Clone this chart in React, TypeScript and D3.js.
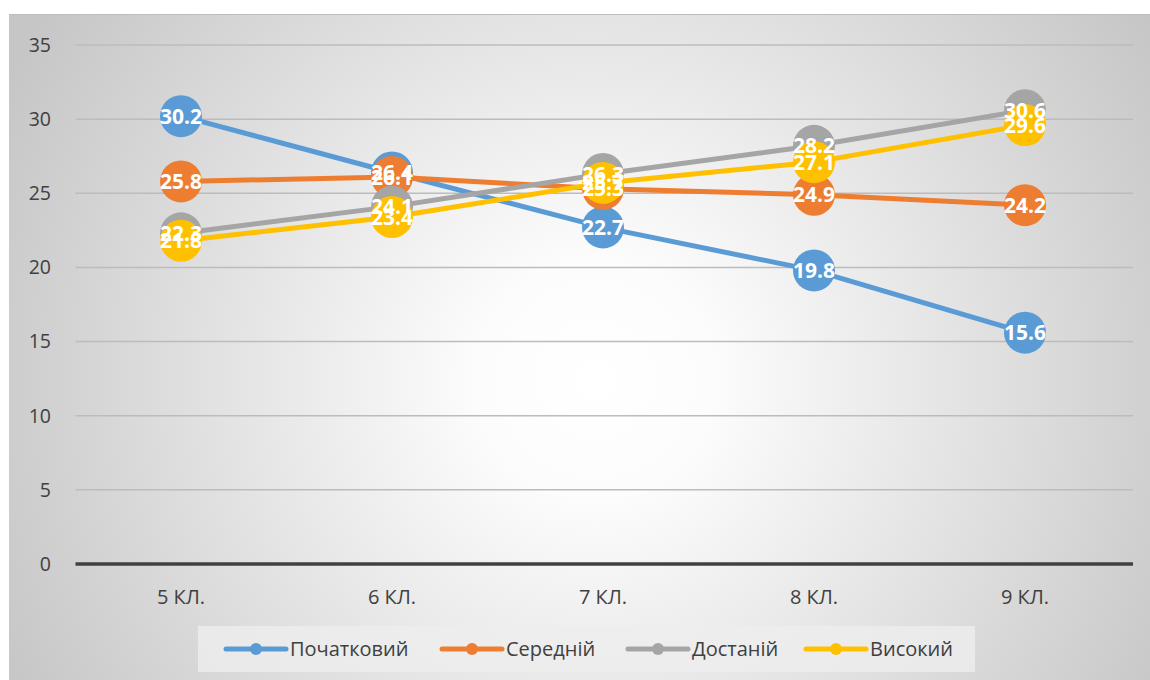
import React, { useEffect, useRef } from 'react';
import * as d3 from 'd3';

// класи (категорії)
const categories = ['5 КЛ.', '6 КЛ.', '7 КЛ.', '8 КЛ.', '9 КЛ.'];

// рівні навчальних досягнень
const pochatkovyi = [30.2, 26.4, 22.7, 19.8, 15.6];
const serednii = [25.8, 26.1, 25.3, 24.9, 24.2];
const dostatnii = [22.3, 24.1, 26.3, 28.2, 30.6];
const vysokyi = [21.8, 23.4, 25.7, 27.1, 29.6];

const seriesNames = ['Початковий', 'Середній', 'Достаній', 'Високий'];
const seriesColors = ['#5B9BD5', '#ED7D31', '#A5A5A5', '#FFC000'];
const yTicks = [0, 5, 10, 15, 20, 25, 30, 35];

const FONT = '"Open Sans", "Noto Sans", sans-serif';

const App = () => {
    const svgRef = useRef<SVGSVGElement | null>(null);
    const width = 1150;
    const height = 680;

    useEffect(() => {
        const svg = d3.select(svgRef.current);
        svg.selectAll('*').remove();

        const series = [pochatkovyi, serednii, dostatnii, vysokyi].map((values, i) => ({
            name: seriesNames[i],
            color: seriesColors[i],
            values,
        }));

        // --- фон з радіальним градієнтом ---
        const defs = svg.append('defs');
        const grad = defs.append('radialGradient')
            .attr('id', 'bg')
            .attr('gradientUnits', 'userSpaceOnUse')
            .attr('cx', 595).attr('cy', 380).attr('r', 660);
        grad.append('stop').attr('offset', '0%').attr('stop-color', '#ffffff');
        grad.append('stop').attr('offset', '18%').attr('stop-color', '#fcfcfc');
        grad.append('stop').attr('offset', '100%').attr('stop-color', '#c6c6c6');

        svg.append('rect').attr('width', width).attr('height', height).attr('fill', '#ffffff');
        svg.append('rect')
            .attr('x', 9).attr('y', 14)
            .attr('width', width - 9).attr('height', height - 14)
            .attr('fill', 'url(#bg)');
        svg.append('line')
            .attr('x1', 9).attr('x2', width).attr('y1', 14.5).attr('y2', 14.5)
            .attr('stroke', '#bdbdbd').attr('stroke-width', 1);

        const x = d3.scaleBand().domain(categories).range([75.5, 1130.5]);
        const y = d3.scaleLinear().domain([0, 35]).range([564, 45]);
        const cx = (i: number) => (x(categories[i]) as number) + x.bandwidth() / 2;

        // --- сітка ---
        svg.append('g')
            .selectAll('line')
            .data(yTicks.filter(t => t > 0))
            .enter().append('line')
            .attr('x1', 75.5).attr('x2', 1133)
            .attr('y1', d => y(d)).attr('y2', d => y(d))
            .attr('stroke', '#bcbcbc').attr('stroke-width', 1.5);

        svg.append('line')
            .attr('x1', 75.5).attr('x2', 1133)
            .attr('y1', y(0)).attr('y2', y(0))
            .attr('stroke', '#404040').attr('stroke-width', 3.5);

        // --- підписи осей ---
        svg.append('g')
            .selectAll('text')
            .data(yTicks)
            .enter().append('text')
            .attr('x', 51).attr('y', d => y(d))
            .attr('dy', '0.35em')
            .attr('text-anchor', 'end')
            .style('font-family', FONT).style('font-size', '19.5px')
            .style('fill', '#404040')
            .text(d => d);

        svg.append('g')
            .selectAll('text')
            .data(categories)
            .enter().append('text')
            .attr('x', (d, i) => cx(i)).attr('y', 597)
            .attr('dy', '0.35em')
            .attr('text-anchor', 'middle')
            .style('font-family', FONT).style('font-size', '20px')
            .style('fill', '#404040')
            .text(d => d);

        // --- лінії та маркери ---
        const line = d3.line<number>().x((d, i) => cx(i)).y(d => y(d));
        series.forEach(s => {
            const g = svg.append('g');
            g.append('path')
                .attr('d', line(s.values))
                .attr('fill', 'none')
                .attr('stroke', s.color)
                .attr('stroke-width', 5)
                .attr('stroke-linejoin', 'round');
            g.selectAll('circle')
                .data(s.values)
                .enter().append('circle')
                .attr('cx', (d, i) => cx(i)).attr('cy', d => y(d))
                .attr('r', 21)
                .attr('fill', s.color);
        });

        // --- підписи даних (поверх усього) ---
        series.forEach(s => {
            svg.append('g')
                .selectAll('text')
                .data(s.values)
                .enter().append('text')
                .attr('x', (d, i) => cx(i)).attr('y', d => y(d))
                .attr('dy', '0.36em')
                .attr('text-anchor', 'middle')
                .style('font-family', FONT).style('font-size', '21px')
                .style('font-weight', '700')
                .style('fill', '#ffffff')
                .text(d => d.toFixed(1));
        });

        // --- легенда ---
        svg.append('rect')
            .attr('x', 198).attr('y', 626)
            .attr('width', 777).attr('height', 46)
            .attr('fill', 'rgba(238,238,238,0.8)');

        const legendX = [226, 442, 628, 806];
        const legendY = 649;
        series.forEach((s, i) => {
            const g = svg.append('g').attr('transform', `translate(${legendX[i]}, ${legendY})`);
            g.append('line')
                .attr('x1', 0).attr('x2', 60)
                .attr('stroke', s.color).attr('stroke-width', 5)
                .attr('stroke-linecap', 'round');
            g.append('circle').attr('cx', 30).attr('r', 6).attr('fill', s.color);
            g.append('text')
                .attr('x', 64).attr('dy', '0.35em')
                .style('font-family', FONT).style('font-size', '20px')
                .style('fill', '#404040')
                .text(s.name);
        });
    }, []);

    return (
        <svg
            ref={svgRef}
            width={width}
            height={height}
            style={{ position: 'fixed', left: 0, top: 0, display: 'block' }}
        />
    );
};

export default App;
